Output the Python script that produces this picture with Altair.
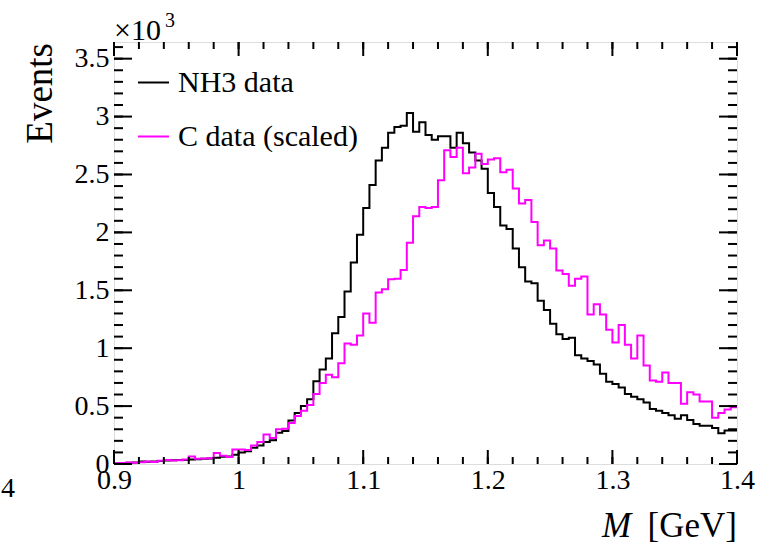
import altair as alt
import pandas as pd

# ---------------- data ----------------
x_min, x_max = 0.9, 1.4
bin_width = 0.005
y_max = 3644

nh3 = [5, 8, 10, 12, 22, 20, 22, 25, 30, 32, 35, 35, 38, 40, 45, 48, 55, 62, 65, 80,
       100, 110, 140, 160, 190, 205, 270, 285, 375, 440, 500, 560, 715, 815, 910, 1130, 1270, 1490, 1740, 1980,
       2210, 2410, 2620, 2730, 2860, 2910, 2920, 3030, 2870, 2950, 2840, 2800, 2830, 2830, 2730, 2860, 2770, 2690, 2620, 2550,
       2340, 2220, 2060, 2030, 1860, 1700, 1575, 1560, 1410, 1330, 1210, 1120, 1080, 1090, 940, 910, 890, 860, 780, 710,
       690, 660, 605, 580, 560, 530, 475, 460, 440, 420, 390, 420, 380, 345, 330, 330, 310, 265, 290, 290]

carbon = [6, 8, 12, 10, 15, 22, 18, 28, 35, 30, 32, 38, 65, 45, 48, 50, 95, 72, 60, 125,
          125, 120, 160, 190, 255, 225, 300, 305, 355, 415, 460, 510, 605, 700, 770, 750, 870, 1040, 1030, 1110,
          1300, 1220, 1480, 1510, 1595, 1600, 1675, 1910, 2140, 2220, 2210, 2220, 2450, 2710, 2650, 2730, 2510, 2560, 2680, 2590,
          2630, 2640, 2520, 2540, 2380, 2250, 2280, 2090, 1890, 1930, 1860, 1670, 1640, 1540, 1600, 1620, 1290, 1380, 1290, 1160,
          1050, 1200, 1030, 910, 1110, 850, 720, 710, 790, 700, 700, 520, 620, 600, 540, 540, 400, 440, 470, 490]

series_names = ["NH3 data", "C data (scaled)"]
series_colors = ["#000000", "#ff00ff"]

x_major = [0.9, 1.0, 1.1, 1.2, 1.3, 1.4]
x_minor = [round(0.9 + 0.02 * i, 2) for i in range(26)]
y_major = [0, 500, 1000, 1500, 2000, 2500, 3000, 3500]
y_minor = [100 * i for i in range(37)]

# ---------------- layout ----------------
W, H = 623, 422
FONT = "Liberation Serif"

rows = []
for name, vals in zip(series_names, [nh3, carbon]):
    n = len(vals)
    for i, v in enumerate(vals):
        rows.append({"series": name, "m": round(x_min + i * bin_width, 4), "events": v, "k": i})
    rows.append({"series": name, "m": round(x_min + n * bin_width, 4), "events": vals[-1], "k": n})
hist = pd.DataFrame(rows)

xscale = alt.Scale(domain=[x_min, x_max], nice=False, zero=False)
yscale = alt.Scale(domain=[0, y_max], nice=False, zero=True)

xaxis = alt.Axis(values=x_major, labelExpr="format(datum.value, '~g')", ticks=False,
                 domain=False, grid=False, title=None, labelFont=FONT, labelFontSize=28,
                 labelColor="black", labelPadding=2, labelFlush=False, labelOverlap=False)
yaxis = alt.Axis(values=y_major, labelExpr="format(datum.value / 1000, '~g')", ticks=False,
                 domain=False, grid=False, title=None, labelFont=FONT, labelFontSize=28,
                 labelColor="black", labelPadding=5, labelFlush=False, labelOverlap=False)

lines = alt.Chart(hist).mark_line(interpolate="step-after", strokeWidth=2).encode(
    x=alt.X("m:Q", scale=xscale, axis=xaxis),
    y=alt.Y("events:Q", scale=yscale, axis=yaxis),
    color=alt.Color("series:N", scale=alt.Scale(domain=series_names, range=series_colors),
                    sort=series_names,
                    legend=alt.Legend(orient="none", legendX=23, legendY=24, title=None,
                                      symbolType="stroke", symbolSize=961, symbolStrokeWidth=2,
                                      labelFont=FONT, labelFontSize=30, labelColor="black",
                                      labelOffset=8, rowPadding=22, padding=0, labelLimit=0)),
    detail="series:N",
    order="k:Q",
)

def xticks(vals, length, top):
    df = pd.DataFrame({"v": vals})
    if top:
        yy, yy2 = alt.value(0), alt.value(length)
    else:
        yy, yy2 = alt.value(H), alt.value(H - length)
    return alt.Chart(df).mark_rule(color="black", strokeWidth=2).encode(
        x=alt.X("v:Q", scale=xscale, axis=xaxis), y=yy, y2=yy2)

def yticks(vals, length, right):
    df = pd.DataFrame({"v": vals})
    if right:
        xx, xx2 = alt.value(W), alt.value(W - length)
    else:
        xx, xx2 = alt.value(0), alt.value(length)
    return alt.Chart(df).mark_rule(color="black", strokeWidth=2).encode(
        y=alt.Y("v:Q", scale=yscale, axis=yaxis), x=xx, x2=xx2)

ticks = [
    xticks(x_major, 14, False), xticks(x_minor, 7, False),
    xticks(x_major, 14, True), xticks(x_minor, 7, True),
    yticks(y_major, 18, False), yticks(y_minor, 9, False),
    yticks(y_major, 18, True), yticks(y_minor, 9, True),
]

def label(text, x, y, size=28, align="left", angle=0, style="normal", baseline="alphabetic"):
    kw = dict(font=FONT, fontSize=size, align=align, baseline=baseline, color="black",
              fontStyle=style)
    if angle:
        kw["angle"] = angle
    return alt.Chart(pd.DataFrame({"t": [text]})).mark_text(**kw).encode(
        text="t:N", x=alt.value(x), y=alt.value(y))

texts = [
    label("×10", 0, -2, 30),
    label("3", 51, -15, 20),
    label("Events", -62, 1, 37, align="right", angle=270),
    label("[GeV]", W, H + 73, 35, align="right"),
    label("M", 488, H + 73, 35, style="italic"),
    label("4", -113, H + 33, 28, align="left"),
]

chart = alt.layer(lines, *ticks, *texts).properties(
    width=W, height=H,
    autosize=alt.AutoSizeParams(type="none"),
    padding={"left": 114, "top": 42, "right": 47, "bottom": 83},
).configure_view(stroke="black", strokeWidth=2).configure(background="white")

chart.save("out.html", embed_options={"renderer": "svg", "actions": False})
